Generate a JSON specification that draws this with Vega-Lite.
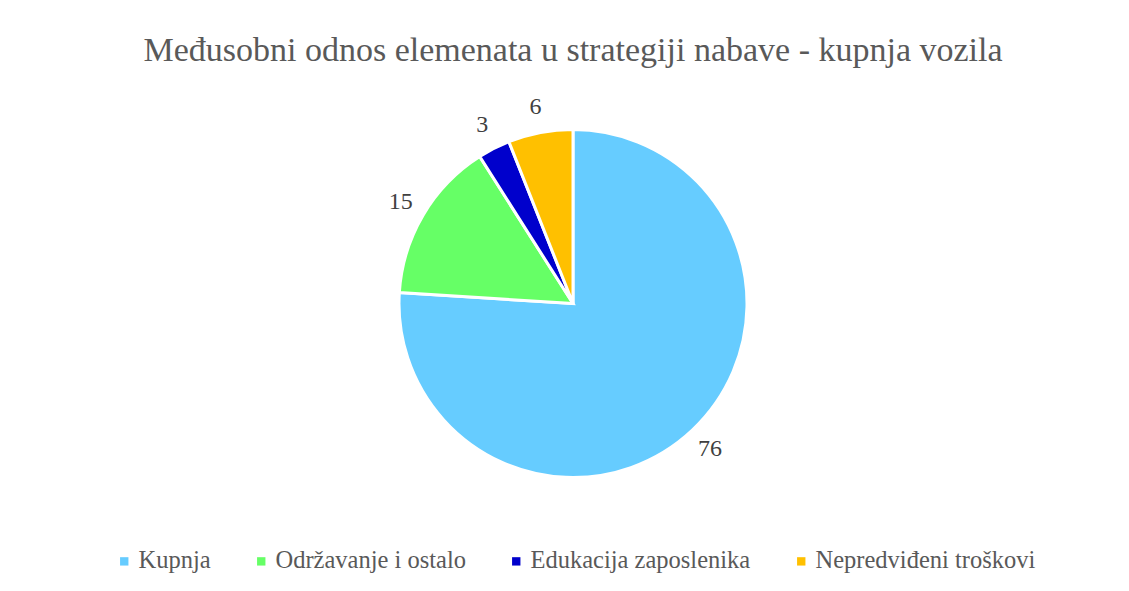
{
  "$schema": "https://vega.github.io/schema/vega-lite/v6.json",
  "autosize": {"type": "fit", "contains": "padding"},
  "width": 1129,
  "height": 591,
  "padding": {"left": 17, "top": 34, "right": 0, "bottom": 72},
  "background": "white",
  "title": {
    "text": "Međusobni odnos elemenata u strategiji nabave - kupnja vozila",
    "font": "Liberation Serif",
    "fontSize": 34,
    "fontWeight": "normal",
    "color": "#595959",
    "anchor": "middle",
    "offset": 20
  },
  "config": {"view": {"stroke": null}},
  "data": {
    "values": [
      {"kategorija": "Kupnja", "vrijednost": 76, "redoslijed": 1},
      {"kategorija": "Održavanje i ostalo", "vrijednost": 15, "redoslijed": 2},
      {"kategorija": "Edukacija zaposlenika", "vrijednost": 3, "redoslijed": 3},
      {"kategorija": "Nepredviđeni troškovi", "vrijednost": 6, "redoslijed": 4}
    ]
  },
  "encoding": {
    "theta": {"field": "vrijednost", "type": "quantitative", "stack": true},
    "order": {"field": "redoslijed", "type": "quantitative"}
  },
  "layer": [
    {
      "mark": {"type": "arc", "outerRadius": 174, "stroke": "white", "strokeWidth": 3},
      "encoding": {
        "color": {
          "field": "kategorija",
          "type": "nominal",
          "sort": ["Kupnja", "Održavanje i ostalo", "Edukacija zaposlenika", "Nepredviđeni troškovi"],
          "scale": {
            "domain": ["Kupnja", "Održavanje i ostalo", "Edukacija zaposlenika", "Nepredviđeni troškovi"],
            "range": ["#66CCFF", "#66FF66", "#0000CC", "#FFC000"]
          },
          "legend": {
            "orient": "none",
            "legendX": 95,
            "legendY": 461,
            "direction": "horizontal",
            "title": null,
            "symbolType": "square",
            "symbolSize": 70,
            "symbolStrokeWidth": 0,
            "labelOffset": 2,
            "labelFont": "Liberation Serif",
            "labelFontSize": 24.5,
            "labelColor": "#595959",
            "columnPadding": 38,
            "labelLimit": 400
          }
        }
      }
    },
    {
      "mark": {"type": "text", "radius": 200, "font": "Liberation Serif", "fontSize": 24, "color": "#404040"},
      "encoding": {
        "text": {"field": "vrijednost", "type": "quantitative"}
      }
    }
  ]
}
